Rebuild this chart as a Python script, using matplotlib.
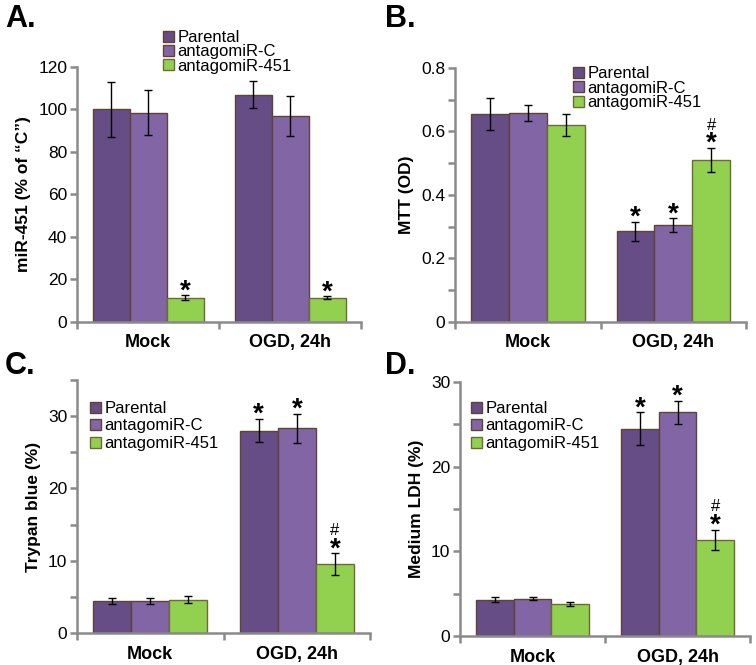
import matplotlib
matplotlib.use("Agg")
import matplotlib.pyplot as plt
import numpy as np

plt.rcParams["font.family"] = ["Liberation Sans", "DejaVu Sans"]

groups = ["Mock", "OGD, 24h"]
series = ["Parental", "antagomiR-C", "antagomiR-451"]
colors = ["#664d86", "#8165a4", "#92d050"]
edges = ["#5e4436", "#5e4436", "#6f6a35"]

# panel A: miR-451 (% of "C")
a_vals = [[100, 107], [98.5, 97], [11.5, 11.5]]
a_errs = [[13, 6.5], [10.5, 9.5], [1.0, 0.5]]
a_marks = [["", ""], ["", ""], ["*", "*"]]

# panel B: MTT (OD)
b_vals = [[0.655, 0.285], [0.658, 0.305], [0.62, 0.51]]
b_errs = [[0.05, 0.03], [0.025, 0.021], [0.035, 0.037]]
b_marks = [["", "*"], ["", "*"], ["", "#*"]]

# panel C: Trypan blue (%)
c_vals = [[4.4, 28.0], [4.4, 28.3], [4.6, 9.5]]
c_errs = [[0.4, 1.6], [0.4, 2.0], [0.5, 1.5]]
c_marks = [["", "*"], ["", "*"], ["", "#*"]]

# panel D: Medium LDH (%)
d_vals = [[4.3, 24.5], [4.4, 26.4], [3.8, 11.3]]
d_errs = [[0.3, 1.9], [0.2, 1.4], [0.25, 1.2]]
d_marks = [["", "*"], ["", "*"], ["", "#*"]]

AXIS = "#8a8a8a"
W = 0.26
FS = 12.5


def draw(ax, vals, errs, marks, ylabel, ylim, major, minor, labels, legend_anchor, spacing):
    x = np.arange(len(groups))
    for i, name in enumerate(series):
        xs = x + (i - 1) * W
        ax.bar(xs, vals[i], W, color=colors[i], edgecolor=edges[i], linewidth=1.0,
               label=name, zorder=2)
        ax.errorbar(xs, vals[i], yerr=errs[i], fmt="none", ecolor="black",
                    elinewidth=1.0, capsize=3.2, capthick=1.0, zorder=3)
        for j, m in enumerate(marks[i]):
            if not m:
                continue
            top = vals[i][j] + errs[i][j]
            ax.annotate("*", (xs[j], top), xytext=(0, -2), textcoords="offset points",
                        ha="center", va="baseline", fontsize=20, fontweight="bold")
            if "#" in m:
                ax.annotate("#", (xs[j], top), xytext=(0, 13.5), textcoords="offset points",
                            ha="center", va="baseline", fontsize=12)
    ax.set_xlim(-0.5, 1.5)
    ax.set_ylim(*ylim)
    ax.set_yticks(major)
    ax.set_yticklabels(labels)
    ax.set_yticks(minor, minor=True)
    ax.set_xticks(x)
    ax.set_xticklabels(groups, fontweight="bold", fontsize=13)
    ax.set_xticks([-0.5, 0.5, 1.5], minor=True)
    ax.tick_params(axis="x", which="major", length=0, pad=9)
    ax.tick_params(axis="x", which="minor", length=5, width=1.8, color=AXIS)
    ax.tick_params(axis="y", which="both", length=5, width=1.8, color=AXIS,
                   labelsize=FS, pad=2)
    for s in ("top", "right"):
        ax.spines[s].set_visible(False)
    for s in ("left", "bottom"):
        ax.spines[s].set_color(AXIS)
        ax.spines[s].set_linewidth(1.8)
    ax.set_ylabel(ylabel, fontweight="bold", fontsize=FS, labelpad=5)
    ax.legend(loc="upper left", bbox_to_anchor=legend_anchor, bbox_transform=ax.figure.transFigure,
              frameon=False, fontsize=12, handlelength=0.65, handleheight=0.65,
              handletextpad=0.2, labelspacing=spacing, borderpad=0, borderaxespad=0)


fig = plt.figure(figsize=(7.56, 6.65), dpi=100)
axA = fig.add_axes([0.1019, 0.5158, 0.376, 0.3835])
axB = fig.add_axes([0.6019, 0.5158, 0.385, 0.382])
axC = fig.add_axes([0.1019, 0.0481, 0.3876, 0.3805])
axD = fig.add_axes([0.6085, 0.0436, 0.3836, 0.382])

draw(axA, a_vals, a_errs, a_marks, "miR-451 (% of \u201cC\u201d)", (0, 120),
     [0, 20, 40, 60, 80, 100, 120], [], ["0", "20", "40", "60", "80", "100", "120"],
     (163 / 756, 1 - 30 / 665), -0.04)
draw(axB, b_vals, b_errs, b_marks, "MTT (OD)", (0, 0.8),
     [0, 0.2, 0.4, 0.6, 0.8], [0.1, 0.3, 0.5, 0.7], ["0", "0.2", "0.4", "0.6", "0.8"],
     (573 / 756, 1 - 66 / 665), -0.02)
draw(axC, c_vals, c_errs, c_marks, "Trypan blue (%)", (0, 35),
     [0, 10, 20, 30], [5, 15, 25, 35], ["0", "10", "20", "30"],
     (90 / 756, 1 - 401 / 665), 0.15)
draw(axD, d_vals, d_errs, d_marks, "Medium LDH (%)", (0, 30),
     [0, 10, 20, 30], [5, 15, 25], ["0", "10", "20", "30"],
     (471 / 756, 1 - 401 / 665), 0.15)

for letter, (px, py) in zip("ABCD", [(5, 4), (385, 4), (5, 351), (385, 351)]):
    fig.text(px / 756, 1 - py / 665, letter + ".", fontsize=22, fontweight="bold",
             ha="left", va="top")

fig.savefig("out.png", dpi=100)
